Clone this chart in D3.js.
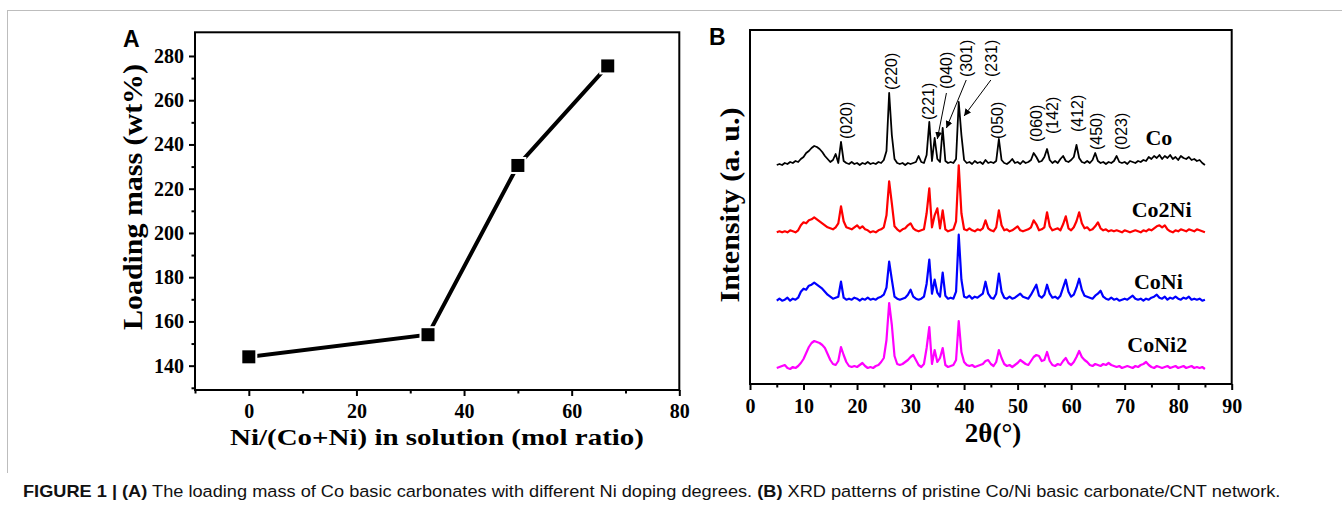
<!DOCTYPE html>
<html><head><meta charset="utf-8">
<script src="https://cdn.jsdelivr.net/npm/d3@7"></script>
<style>body{margin:0;background:#fff;} svg{display:block;}</style>
</head><body>
<svg id="c" width="1342" height="513"></svg>
<script>
// ---------- Panel A data ----------
const niRatio = [0, 33.3, 50, 66.7];
const loadingMass = [144, 154, 230.5, 275.5];
const aXTicks = [0, 20, 40, 60, 80];
const aXMinor = [-10, 10, 30, 50, 70];
const aYTicks = [140, 160, 180, 200, 220, 240, 260, 280];
const aYMinor = [130, 150, 170, 190, 210, 230, 250, 270];

// ---------- Panel B data ----------
const twoThetaStart = 5, twoThetaStep = 0.5;
const seriesNames = ["Co", "Co2Ni", "CoNi", "CoNi2"];
const seriesOffsets = [219, 150.7, 82.3, 14];
const intCo = [
 0,1,0,2,1,3,2,4,3,6,
 8,12,14,17,19,18,16,13,9,6,
 3,5,11,2,23,4,2,1,3,1,
 2,0,2,1,3,1,2,1,3,2,
 5,14,72,30,6,2,1,2,0,2,
 1,2,3,9,3,2,10,43,4,27,
 6,3,37,4,2,3,2,6,63,30,
 5,2,3,1,4,2,3,1,5,2,
 3,2,4,26,5,2,1,3,6,2,
 3,1,4,2,3,5,12,8,3,4,
 8,16,5,2,4,2,6,9,4,3,
 5,8,20,7,3,2,4,2,5,12,
 4,2,3,1,3,2,4,9,3,2,
 3,1,4,3,2,4,3,5,4,8,
 6,9,7,10,6,9,7,10,6,8,
 5,9,7,6,8,5,6,4,5,2,
 0];
const intCo2Ni = [
 1,2,1,2,1,3,2,1,3,8,
 11,10,13,14,16,14,12,10,8,6,
 5,4,6,10,27,12,6,5,4,6,
 8,5,7,4,3,1,2,1,3,4,
 6,18,52,30,7,4,2,4,5,8,
 10,5,3,2,3,4,20,45,6,18,
 25,5,23,4,2,3,4,12,68,20,
 4,3,5,3,2,4,3,5,13,5,
 3,2,6,23,8,3,4,2,3,5,
 7,3,2,3,4,6,13,9,3,4,
 6,21,7,3,4,5,3,9,17,5,
 3,6,12,21,10,5,6,3,4,7,
 11,5,3,4,2,3,2,3,2,1,
 3,2,1,2,3,2,1,3,2,4,
 3,5,7,8,6,8,4,2,1,3,
 2,4,3,2,4,3,2,4,3,2,
 1];
const intCoNi = [
 1,3,1,2,4,1,3,2,4,10,
 13,12,16,17,19,17,15,13,10,7,
 5,3,4,5,20,4,2,3,2,4,
 3,1,3,2,4,2,3,2,4,5,
 7,14,40,22,5,3,2,3,4,7,
 12,5,3,2,3,5,18,42,8,22,
 9,5,29,6,3,4,3,10,67,22,
 5,4,6,3,5,4,6,8,20,8,
 4,3,8,28,10,4,3,5,3,4,
 6,8,5,4,3,7,12,17,6,4,
 7,17,8,4,5,3,6,14,22,10,
 5,7,14,23,12,6,5,4,3,6,
 8,11,5,3,2,4,2,3,1,2,
 3,2,4,6,3,2,3,1,3,2,
 4,5,7,4,3,5,2,4,3,5,
 3,2,4,3,5,2,3,2,3,1,
 2];
const intCoNi2 = [
 2,3,4,5,2,1,3,2,4,7,
 11,17,23,27,29,28,27,25,22,16,
 10,6,5,9,23,15,8,4,3,4,
 3,5,7,4,2,3,2,4,5,8,
 12,30,67,45,14,6,5,6,8,10,
 13,15,10,5,3,6,22,43,6,20,
 8,12,22,5,3,4,5,10,49,18,
 8,5,4,5,3,4,5,6,9,10,
 6,4,8,20,12,6,4,5,3,5,
 7,10,8,6,5,9,13,15,14,9,
 10,18,9,5,4,6,5,9,12,7,
 5,8,13,19,13,10,8,5,4,6,
 5,4,6,5,7,5,4,3,4,2,
 3,4,3,2,4,3,5,6,8,5,
 3,2,4,3,2,3,4,2,3,4,
 2,3,4,2,3,4,2,3,2,3,
 1];
const seriesData = [intCo, intCo2Ni, intCoNi, intCoNi2];
const peakLabels = ["(020)","(220)","(221)","(040)","(301)","(231)","(050)","(060)","(142)","(412)","(450)","(023)"];
const peakLabelTheta = [17.9, 26.3, 33.3, 36.7, 40.4, 45.0, 46.1, 53.4, 56.4, 61.1, 64.7, 69.4];
const peakLabelBase = [245, 294, 264, 295, 307, 307, 245, 242, 250, 252, 234, 234];
// arrows: [fromTheta, fromInt, toTheta, toInt]
const arrowFromTheta = [36.7, 40.4, 45.0];
const arrowFromInt = [291, 304, 304];
const arrowToTheta = [35.0, 36.7, 40.0];
const arrowToInt = [245, 256, 268];
const bXTicks = [0,10,20,30,40,50,60,70,80,90];
const bXMinor = [5,15,25,35,45,55,65,75,85];
const seriesLabelTheta = [76.4, 76.9, 76.3, 76.1];
const seriesLabelInt = [239, 167, 95, 32];

// ---------- styles ----------
const colors = {"Co":"#000000","Co2Ni":"#ff0000","CoNi":"#0000ff","CoNi2":"#ff00ff"};
const serif = "'Liberation Serif','Times New Roman',serif";
const sans = "'Liberation Sans',Arial,sans-serif";

const svg = d3.select("#c");

// border of figure
svg.append("line").attr("x1",7).attr("x2",1342).attr("y1",10.5).attr("y2",10.5).attr("stroke","#bdbdbd").attr("stroke-width",1);
svg.append("line").attr("x1",7.5).attr("x2",7.5).attr("y1",10).attr("y2",473).attr("stroke","#bdbdbd").attr("stroke-width",1);

// ===== Panel A =====
const xA = d3.scaleLinear().domain([-10, 80]).range([195, 679.3]);
const yA = d3.scaleLinear().domain([129, 290.7]).range([390, 32.3]);
const gA = svg.append("g");

function styleAxis(g, size){
  g.select(".domain").remove();
  g.selectAll("line").attr("stroke","#000").attr("stroke-width",2);
  g.selectAll("text").attr("font-family",serif).attr("font-weight","bold").attr("font-size",size).attr("fill","#000");
}
gA.append("g").attr("transform",`translate(0,${yA.range()[0]})`)
  .call(d3.axisBottom(xA).tickValues(aXTicks).tickSize(6).tickPadding(8).tickFormat(d3.format("d")))
  .call(g=>styleAxis(g,20));
gA.append("g").attr("transform",`translate(0,${yA.range()[0]})`)
  .call(d3.axisBottom(xA).tickValues(aXMinor).tickSize(3.5).tickFormat(""))
  .call(g=>styleAxis(g,20));
gA.append("g").attr("transform",`translate(${xA.range()[0]},0)`)
  .call(d3.axisLeft(yA).tickValues(aYTicks).tickSize(6).tickPadding(5).tickFormat(d3.format("d")))
  .call(g=>styleAxis(g,20));
gA.append("g").attr("transform",`translate(${xA.range()[0]},0)`)
  .call(d3.axisLeft(yA).tickValues(aYMinor).tickSize(3.5).tickFormat(""))
  .call(g=>styleAxis(g,20));
gA.append("rect").attr("x",xA.range()[0]).attr("y",yA.range()[1])
  .attr("width",xA.range()[1]-xA.range()[0]).attr("height",yA.range()[0]-yA.range()[1])
  .attr("fill","none").attr("stroke","#000").attr("stroke-width",2);

const ptsA = niRatio.map((d,i)=>[d, loadingMass[i]]);
gA.append("path").datum(ptsA)
  .attr("d", d3.line().x(d=>xA(d[0])).y(d=>yA(d[1])))
  .attr("fill","none").attr("stroke","#000").attr("stroke-width",4);
gA.selectAll("rect.halo").data(ptsA).join("rect").attr("class","halo")
  .attr("x",d=>xA(d[0])-8.5).attr("y",d=>yA(d[1])-8.5).attr("width",17).attr("height",17).attr("fill","#fff");
gA.selectAll("rect.mk").data(ptsA).join("rect").attr("class","mk")
  .attr("x",d=>xA(d[0])-6.5).attr("y",d=>yA(d[1])-6.5).attr("width",13).attr("height",13).attr("fill","#000");

gA.append("text").attr("transform","translate(142,197) rotate(-90)")
  .attr("text-anchor","middle").attr("font-family",serif).attr("font-weight","bold").attr("font-size",27)
  .attr("textLength",266).attr("lengthAdjust","spacingAndGlyphs").text("Loading mass (wt%)");
gA.append("text").attr("x",437).attr("y",445)
  .attr("text-anchor","middle").attr("font-family",serif).attr("font-weight","bold").attr("font-size",24)
  .attr("textLength",414).attr("lengthAdjust","spacingAndGlyphs").text("Ni/(Co+Ni) in solution (mol ratio)");
gA.append("text").attr("x",123).attr("y",46.5).attr("font-family",sans).attr("font-weight","bold")
  .attr("font-size",23).text("A");

// ===== Panel B =====
const xB = d3.scaleLinear().domain([0, 90]).range([750, 1231.7]);
const yB = d3.scaleLinear().domain([0, 354]).range([384, 30]);
const gB = svg.append("g");
gB.append("g").attr("transform",`translate(0,${yB.range()[0]})`)
  .call(d3.axisBottom(xB).tickValues(bXTicks).tickSize(6).tickPadding(9).tickFormat(d3.format("d")))
  .call(g=>styleAxis(g,20));
gB.append("g").attr("transform",`translate(0,${yB.range()[0]})`)
  .call(d3.axisBottom(xB).tickValues(bXMinor).tickSize(3.5).tickFormat(""))
  .call(g=>styleAxis(g,20));
gB.append("rect").attr("x",xB.range()[0]).attr("y",yB.range()[1])
  .attr("width",xB.range()[1]-xB.range()[0]).attr("height",yB.range()[0]-yB.range()[1])
  .attr("fill","none").attr("stroke","#000").attr("stroke-width",2);

seriesData.forEach((arr, k)=>{
  const off = seriesOffsets[k];
  gB.append("path").datum(arr)
    .attr("d", d3.line().x((d,i)=>xB(twoThetaStart + i*twoThetaStep)).y(d=>yB(d+off)))
    .attr("fill","none").attr("stroke",colors[seriesNames[k]])
    .attr("stroke-width", k===0?1.8:2.2).attr("stroke-linejoin","round");
  gB.append("text").attr("x",xB(seriesLabelTheta[k])).attr("y",yB(seriesLabelInt[k]))
    .attr("text-anchor","middle").attr("font-family",serif).attr("font-weight","bold")
    .attr("font-size",22).attr("fill","#000").text(seriesNames[k]);
});

peakLabels.forEach((lab,i)=>{
  gB.append("text").attr("transform",`translate(${xB(peakLabelTheta[i])},${yB(peakLabelBase[i])}) rotate(-90)`)
    .attr("dy","0.36em").attr("font-family",sans).attr("font-size",16).attr("fill","#000").text(lab);
});

const defs = svg.append("defs");
defs.append("marker").attr("id","ah").attr("viewBox","0 0 10 10").attr("refX",10).attr("refY",5)
  .attr("markerWidth",7).attr("markerHeight",7).attr("markerUnits","userSpaceOnUse").attr("orient","auto")
  .append("path").attr("d","M0,0 L10,5 L0,10 z").attr("fill","#000");
arrowFromTheta.forEach((t,i)=>{
  gB.append("line").attr("x1",xB(t)).attr("y1",yB(arrowFromInt[i]))
    .attr("x2",xB(arrowToTheta[i])).attr("y2",yB(arrowToInt[i]))
    .attr("stroke","#000").attr("stroke-width",1).attr("marker-end","url(#ah)");
});

gB.append("text").attr("transform","translate(739,205) rotate(-90)")
  .attr("text-anchor","middle").attr("font-family",serif).attr("font-weight","bold").attr("font-size",27)
  .attr("textLength",195).attr("lengthAdjust","spacingAndGlyphs").text("Intensity (a. u.)");
gB.append("text").attr("x",993).attr("y",442)
  .attr("text-anchor","middle").attr("font-family",serif).attr("font-weight","bold").attr("font-size",27)
  .text("2θ(°)");
gB.append("text").attr("x",709).attr("y",45).attr("font-family",sans).attr("font-weight","bold")
  .attr("font-size",23).text("B");

// ===== Caption =====
const cap = svg.append("text").attr("font-family",sans).attr("font-size",16.5).attr("fill","#111")
  .attr("transform","translate(23,497)");
const capParts = [
  ["FIGURE 1 | ", true], ["(A)", true],
  [" The loading mass of Co basic carbonates with different Ni doping degrees. ", false],
  ["(B)", true], [" XRD patterns of pristine Co/Ni basic carbonate/CNT network.", false]
];
capParts.forEach(p=>cap.append("tspan").attr("font-weight",p[1]?"bold":"normal").text(p[0]));
const w = cap.node().getComputedTextLength();
cap.attr("transform",`translate(23,497) scale(${1258/w},1)`);
</script>
</body></html>
